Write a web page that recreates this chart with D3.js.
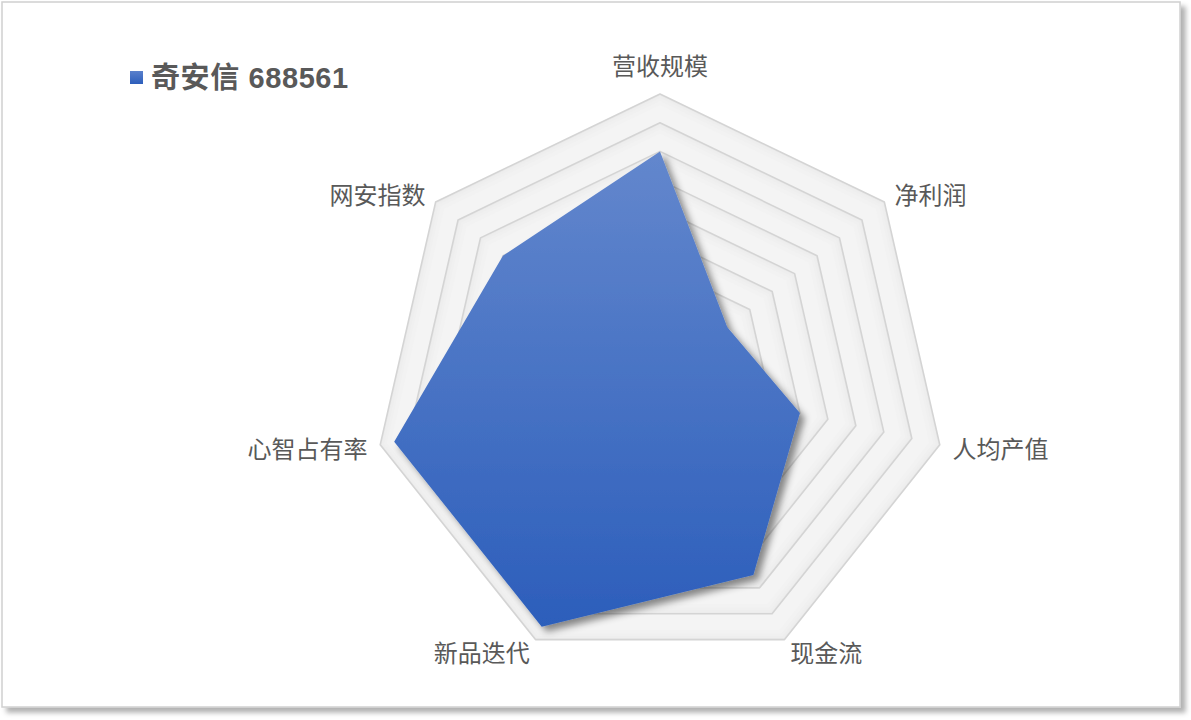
<!DOCTYPE html>
<html><head><meta charset="utf-8">
<script src="https://cdn.jsdelivr.net/npm/d3@7"></script>
<style>
html,body{margin:0;padding:0;background:#fff;}
svg{display:block;}
</style></head>
<body>
<script>
const categories = ["营收规模","净利润","人均产值","现金流","新品迭代","心智占有率","网安指数"];
const seriesName = "奇安信 688561";
const seriesValues = [8, 3, 5, 7.5, 9.5, 9.5, 7];
const gridLevels = [1,2,3,4,5,6,7,8,9,10];
const maxValue = 10;

const W = 1191, H = 720;
const cx = 660, cy = 381, R = 287;
const svg = d3.select("body").append("svg").attr("width", W).attr("height", H);
const defs = svg.append("defs");

// chart frame with shadow
const fsh = defs.append("filter").attr("id","frameShadow").attr("x","-5%").attr("y","-5%").attr("width","110%").attr("height","110%");
fsh.append("feDropShadow").attr("dx",5).attr("dy",5).attr("stdDeviation",2.5).attr("flood-color","#000").attr("flood-opacity",0.3);
svg.append("rect").attr("x",2).attr("y",2).attr("width",1178).attr("height",705)
  .attr("fill","#fff").attr("stroke","#d0d0d0").attr("stroke-width",1.5).attr("filter","url(#frameShadow)");

const rScale = d3.scaleLinear().domain([0, maxValue]).range([0, R]);
const n = categories.length;
const angle = i => -Math.PI/2 + i * 2*Math.PI/n;
const pt = (i, v) => [cx + rScale(v)*Math.cos(angle(i)), cy + rScale(v)*Math.sin(angle(i))];
const polyPts = v => categories.map((c,i)=>pt(i, v).join(",")).join(" ");

// grid bands: shaded (beveled) heptagon bands
const shades = [[0, "#ebebeb"], [0.06, "#eeeeee"], [0.14, "#f0f0f0"], [0.24, "#f2f2f2"], [0.38, "#f4f4f4"]];
const gridG = svg.append("g");
gridLevels.slice().reverse().forEach(lv => {
  shades.forEach(([off, col]) => {
    gridG.append("polygon").attr("points", polyPts(lv - off)).attr("fill", col);
  });
});
gridG.selectAll("polygon.ring").data(gridLevels.slice().reverse()).enter().append("polygon")
  .attr("class","ring")
  .attr("points", lv => polyPts(lv))
  .attr("fill","none").attr("stroke","#d4d4d4").attr("stroke-width",1.6).attr("stroke-linejoin","round");

// data polygon
const grad = defs.append("linearGradient").attr("id","fillGrad").attr("x1",0).attr("y1",0).attr("x2",0).attr("y2",1);
grad.append("stop").attr("offset",0).attr("stop-color","#6387cd");
grad.append("stop").attr("offset",1).attr("stop-color","#2c5ebb");
const sh = defs.append("filter").attr("id","polyShadow").attr("x","-10%").attr("y","-10%").attr("width","125%").attr("height","125%");
sh.append("feDropShadow").attr("dx",5).attr("dy",5).attr("stdDeviation",3.5).attr("flood-color","#000").attr("flood-opacity",0.45);

svg.append("polygon")
  .datum(seriesValues)
  .attr("points", d => d.map((v,i)=>pt(i,v).join(",")).join(" "))
  .attr("fill","url(#fillGrad)").attr("filter","url(#polyShadow)");

// labels
const fontFam = "'Noto Sans CJK SC','Microsoft YaHei',sans-serif";
svg.append("g").selectAll("text").data(categories).enter().append("text")
  .each(function(c,i){
    const a = angle(i), dx = Math.cos(a), dy = Math.sin(a);
    let rr = R + 13;
    let x = cx + rr*dx, y = cy + rr*dy;
    let anchor = Math.abs(dx) < 0.05 ? "middle" : (dx > 0 ? "start" : "end");
    if (anchor === "middle") y += dy * 17;
    d3.select(this).attr("x", x).attr("y", y).attr("text-anchor", anchor)
      .attr("dominant-baseline","central");
  })
  .attr("font-family", fontFam).attr("font-size", 24).attr("fill","#595959")
  .text(d=>d);

// legend
const lgGrad = defs.append("linearGradient").attr("id","lgGrad").attr("x1",0).attr("y1",0).attr("x2",0).attr("y2",1);
lgGrad.append("stop").attr("offset",0).attr("stop-color","#5a80cc");
lgGrad.append("stop").attr("offset",1).attr("stop-color","#2c5ebb");
svg.append("rect").attr("x",130).attr("y",71).attr("width",13).attr("height",13).attr("fill","url(#lgGrad)");
svg.append("text").attr("x",151).attr("y",78).attr("dominant-baseline","central")
  .attr("font-family","'Liberation Sans','Noto Sans CJK SC',sans-serif").attr("font-weight","bold")
  .attr("font-size",29).attr("letter-spacing",0.6).attr("fill","#595959").text(seriesName);
</script>
</body></html>
